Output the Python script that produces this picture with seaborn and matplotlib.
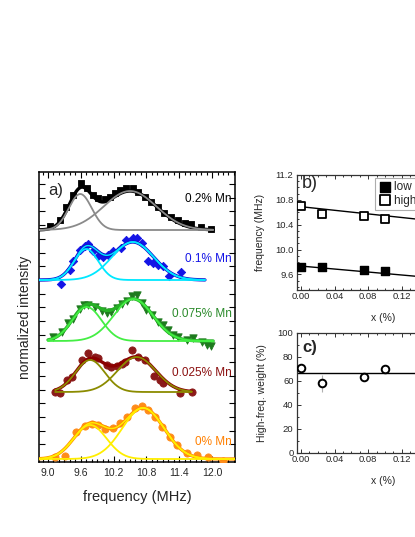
import numpy as np
import pandas as pd
import matplotlib
matplotlib.use("Agg")
import matplotlib.pyplot as plt
from matplotlib.ticker import MultipleLocator, NullFormatter
import seaborn as sns

# ---------------- data: panel a (NMR spectra) ----------------
labels = ["0.2% Mn", "0.1% Mn", "0.075% Mn", "0.025% Mn", "0% Mn"]
offsets = [23.2, 18.2, 12.1, 7.0, 0.3]

freq_02 = [9.03, 9.21, 9.33, 9.46, 9.61, 9.72, 9.82, 9.91, 10.04, 10.13, 10.22, 10.31, 10.43,
           10.55, 10.65, 10.77, 10.89, 11.01, 11.13, 11.25, 11.38, 11.50, 11.62, 11.80, 11.99]
int_02 = [0.4, 1.0, 2.3, 3.5, 4.7, 4.2, 3.5, 3.2, 3.1, 3.3, 3.7, 4.0, 4.2,
          4.2, 3.8, 3.3, 2.8, 2.3, 1.7, 1.3, 1.0, 0.7, 0.6, 0.3, 0.1]

freq_01 = [9.23, 9.40, 9.46, 9.58, 9.67, 9.73, 9.82, 9.91, 10.01, 10.10, 10.19, 10.33, 10.43,
           10.55, 10.63, 10.72, 10.82, 10.92, 11.01, 11.10, 11.21, 11.43]
int_01 = [-0.4, 1.0, 1.9, 3.0, 3.4, 3.6, 2.9, 2.4, 2.3, 2.5, 2.9, 3.2, 4.0,
          4.2, 4.2, 3.7, 1.9, 1.7, 1.5, 1.4, 0.4, 0.8]

freq_0075 = [9.10, 9.25, 9.37, 9.46, 9.59, 9.65, 9.74, 9.86, 9.98, 10.07, 10.16, 10.26, 10.35,
             10.44, 10.53, 10.62, 10.71, 10.80, 10.90, 11.02, 11.11, 11.20, 11.29, 11.38, 11.54,
             11.66, 11.81, 11.90, 11.99]
int_0075 = [0.4, 0.9, 1.8, 2.2, 3.2, 3.6, 3.6, 3.4, 3.0, 2.8, 2.9, 3.3, 3.7,
            4.0, 4.5, 4.6, 3.8, 3.1, 2.6, 1.9, 1.6, 1.1, 0.6, 0.4, 0.1,
            0.3, -0.1, -0.4, -0.5]

freq_0025 = [9.13, 9.22, 9.34, 9.43, 9.62, 9.74, 9.86, 9.92, 10.07, 10.16, 10.26, 10.35, 10.41,
             10.53, 10.65, 10.77, 10.93, 11.05, 11.11, 11.41, 11.63]
int_0025 = [0.0, -0.1, 1.2, 1.5, 3.2, 3.9, 3.5, 3.4, 2.7, 2.5, 2.6, 2.8, 3.0,
            4.2, 3.5, 3.2, 1.6, 1.2, 0.9, -0.1, 0.0]

freq_0 = [9.13, 9.31, 9.52, 9.68, 9.80, 9.92, 10.04, 10.19, 10.32, 10.44, 10.59, 10.71, 10.83,
          10.96, 11.08, 11.23, 11.35, 11.54, 11.72, 11.93, 12.20]
int_0 = [0.2, 0.3, 2.7, 3.3, 3.5, 3.4, 3.0, 3.1, 3.6, 4.2, 5.1, 5.3, 4.9,
         4.2, 3.2, 2.2, 1.4, 0.6, 0.4, 0.2, -0.2]

# fitted two-Gaussian parameters: (center, sigma, amplitude) for low / high line
fit_low = [(9.59, 0.21, 3.6), (9.70, 0.22, 3.1), (9.71, 0.27, 3.4), (9.77, 0.27, 3.2), (9.77, 0.30, 3.4)]
fit_high = [(10.50, 0.48, 3.9), (10.55, 0.38, 3.8), (10.56, 0.36, 4.2), (10.62, 0.35, 3.5), (10.74, 0.38, 5.1)]
fit_range = [(8.84, 12.02), (8.84, 11.87), (9.00, 12.02), (9.13, 11.63), (8.84, 12.42)]

# ---------------- data: panels b, c ----------------
x_conc = [0.0, 0.025, 0.075, 0.1]
f_low = [9.72, 9.72, 9.675, 9.66]
f_high = [10.70, 10.58, 10.54, 10.49]
low_fit = (9.735, -1.2)      # intercept, slope
high_fit = (10.69, -1.45)
hf_weight = [71, 58, 63, 70]
hf_err = [3, 7, 3, 3]
hf_mean = 66.5

# ---------------- style ----------------
sns.set_theme(style="ticks")
plt.rcParams["font.family"] = ["Liberation Sans", "DejaVu Sans"]
plt.rcParams["axes.facecolor"] = "white"

W, H = 415, 537
fig = plt.figure(figsize=(W / 100, H / 100), dpi=100)


def box(l, t, r, b):
    return [l / W, 1 - b / H, (r - l) / W, (b - t) / H]


# ---------------- panel a ----------------
ax = fig.add_axes(box(39, 172, 235, 462))
spectra = [
    (freq_02, int_02, "s", 15, "#000000", "#000000", "#8a8a8a", None, "#000000"),
    (freq_01, int_01, "D", 18, "#1414e6", "#1010d0", "#00e8ff", "#00e8ff", "#1414e6"),
    (freq_0075, int_0075, "v", 28, "#1e7a1e", "#26b026", "#44ee44", None, "#2a8a2a"),
    (freq_0025, int_0025, "o", 27, "#8b1a1a", "#8b0000", "#8b8b00", None, "#8b1010"),
    (freq_0, int_0, "o", 27, "#ff8c1a", "#ff8c00", "#ffee00", "#ffee00", "#ff8000"),
]
for i, (fr, it, mk, ms, mcol, scol, ccol, inner, tcol) in enumerate(spectra):
    off = offsets[i]
    lo, hi = fit_range[i]
    grid = np.linspace(lo, hi, 300)
    c1, s1, a1 = fit_low[i]
    c2, s2, a2 = fit_high[i]
    g1 = a1 * np.exp(-0.5 * ((grid - c1) / s1) ** 2)
    g2 = a2 * np.exp(-0.5 * ((grid - c2) / s2) ** 2)
    sns.scatterplot(x=fr, y=np.array(it) + off, marker=mk, s=ms, color=mcol,
                    edgecolor=mcol, linewidth=0.6, ax=ax, zorder=3)
    sns.lineplot(x=grid, y=g1 + g2 + off, color=scol, lw=2.4, ax=ax, zorder=4)
    if inner:
        sns.lineplot(x=grid, y=g1 + g2 + off, color=inner, lw=1.0, ax=ax, zorder=5)
    sns.lineplot(x=grid, y=g1 + off, color=ccol, lw=1.3, ax=ax, zorder=5)
    sns.lineplot(x=grid, y=g2 + off, color=ccol, lw=1.3, ax=ax, zorder=5)

label_y = [26.3, 20.3, 14.8, 8.9, 2.0]
label_col = ["#000000", "#1414e6", "#2a8a2a", "#8b1010", "#ff8000"]
for lab, ly, lc in zip(labels, label_y, label_col):
    ax.text(12.36, ly, lab, color=lc, fontsize=8.5, ha="right", va="center")

ax.text(9.0, 27.1, "a)", fontsize=12, ha="left", va="center")
ax.set_xlim(8.835, 12.42)
ax.set_ylim(0, 29)
ax.xaxis.set_minor_locator(MultipleLocator(0.1))
ax.set_xticks(np.arange(9.0, 12.01, 0.6))
ax.set_yticks(np.arange(0.4, 29, 1.37))
ax.yaxis.set_major_formatter(NullFormatter())
ax.tick_params(axis="both", which="both", direction="in", top=True, right=True,
               color="black", width=0.8)
ax.tick_params(axis="both", which="major", length=4)
ax.tick_params(axis="x", which="minor", length=2.2)
ax.tick_params(axis="x", labelsize=7.5, pad=4)
for sp in ax.spines.values():
    sp.set_color("black")
    sp.set_linewidth(1.1)
ax.set_xlabel("frequency (MHz)", fontsize=10.5)
ax.set_ylabel("normalized intensity", fontsize=10)
ax.xaxis.set_label_coords(0.5, -0.095)
ax.yaxis.set_label_coords(-0.035, 0.5)

# ---------------- panel b ----------------
xl = (-0.0048, 0.207)
axb = fig.add_axes(box(297, 175, 475, 290))
sns.scatterplot(x=x_conc, y=f_low, marker="s", s=40, color="black", edgecolor="black",
                linewidth=1.0, ax=axb, zorder=3, label="low freq.")
sns.scatterplot(x=x_conc, y=f_high, marker="s", s=34, color="white", edgecolor="black",
                linewidth=1.3, ax=axb, zorder=3, label="high freq.")
xx = np.array(xl)
sns.lineplot(x=xx, y=low_fit[0] + low_fit[1] * xx, color="black", lw=1.0, ax=axb, zorder=2)
sns.lineplot(x=xx, y=high_fit[0] + high_fit[1] * xx, color="black", lw=1.0, ax=axb, zorder=2)
axb.set_xlim(*xl)
axb.set_ylim(9.35, 11.2)
axb.set_yticks([9.6, 10.0, 10.4, 10.8, 11.2])
axb.yaxis.set_minor_locator(MultipleLocator(0.1))
axb.set_xticks([0.0, 0.04, 0.08, 0.12, 0.16, 0.20])
axb.xaxis.set_minor_locator(MultipleLocator(0.01))
axb.xaxis.set_major_formatter(matplotlib.ticker.FormatStrFormatter("%.2f"))
axb.yaxis.set_major_formatter(matplotlib.ticker.FormatStrFormatter("%.1f"))
axb.text(0.0015, 11.07, "b)", fontsize=13, ha="left", va="center")
axb.set_xlabel("x (%)", fontsize=7.5)
axb.set_ylabel("frequency (MHz)", fontsize=7.5)
axb.xaxis.set_label_coords(0.485, -0.2)
axb.yaxis.set_label_coords(-0.18, 0.5)
leg = axb.legend(loc="upper left", bbox_to_anchor=(0.44, 0.975), fontsize=8.5,
                 frameon=True, fancybox=False, edgecolor="#999999", borderpad=0.25,
                 handletextpad=0.25, labelspacing=0.15, borderaxespad=0, handlelength=1.1,
                 markerscale=1.25)
leg.get_frame().set_linewidth(0.8)

# ---------------- panel c ----------------
axc = fig.add_axes(box(297, 333, 475, 453))
axc.errorbar(x_conc, hf_weight, yerr=hf_err, fmt="none", ecolor="#b0b0b0", elinewidth=0.8,
             capsize=0, zorder=2)
sns.scatterplot(x=x_conc, y=hf_weight, marker="o", s=30, color="white", edgecolor="black",
                linewidth=1.4, ax=axc, zorder=3)
sns.lineplot(x=xx, y=[hf_mean, hf_mean], color="black", lw=1.0, ax=axc, zorder=2)
axc.set_xlim(*xl)
axc.set_ylim(0, 100)
axc.set_yticks([0, 20, 40, 60, 80, 100])
axc.yaxis.set_minor_locator(MultipleLocator(10))
axc.set_xticks([0.0, 0.04, 0.08, 0.12, 0.16, 0.20])
axc.xaxis.set_minor_locator(MultipleLocator(0.01))
axc.xaxis.set_major_formatter(matplotlib.ticker.FormatStrFormatter("%.2f"))
axc.text(0.0015, 88, "c)", fontsize=12, fontweight="bold", ha="left", va="center")
axc.set_xlabel("x (%)", fontsize=7.5)
axc.set_ylabel("High-freq. weight (%)", fontsize=7.5)
axc.xaxis.set_label_coords(0.485, -0.19)
axc.yaxis.set_label_coords(-0.17, 0.5)

for a in (axb, axc):
    a.tick_params(axis="both", which="both", direction="in", top=True, right=True,
                  color="#333333", width=0.7)
    a.tick_params(axis="both", which="major", length=3)
    a.tick_params(axis="both", which="minor", length=1.6)
    a.tick_params(axis="x", labelsize=6.8, pad=1.5)
    a.tick_params(axis="y", labelsize=6.8, pad=2.5)
    for sp in a.spines.values():
        sp.set_color("#333333")
        sp.set_linewidth(0.9)

fig.savefig("out.png", dpi=100)
